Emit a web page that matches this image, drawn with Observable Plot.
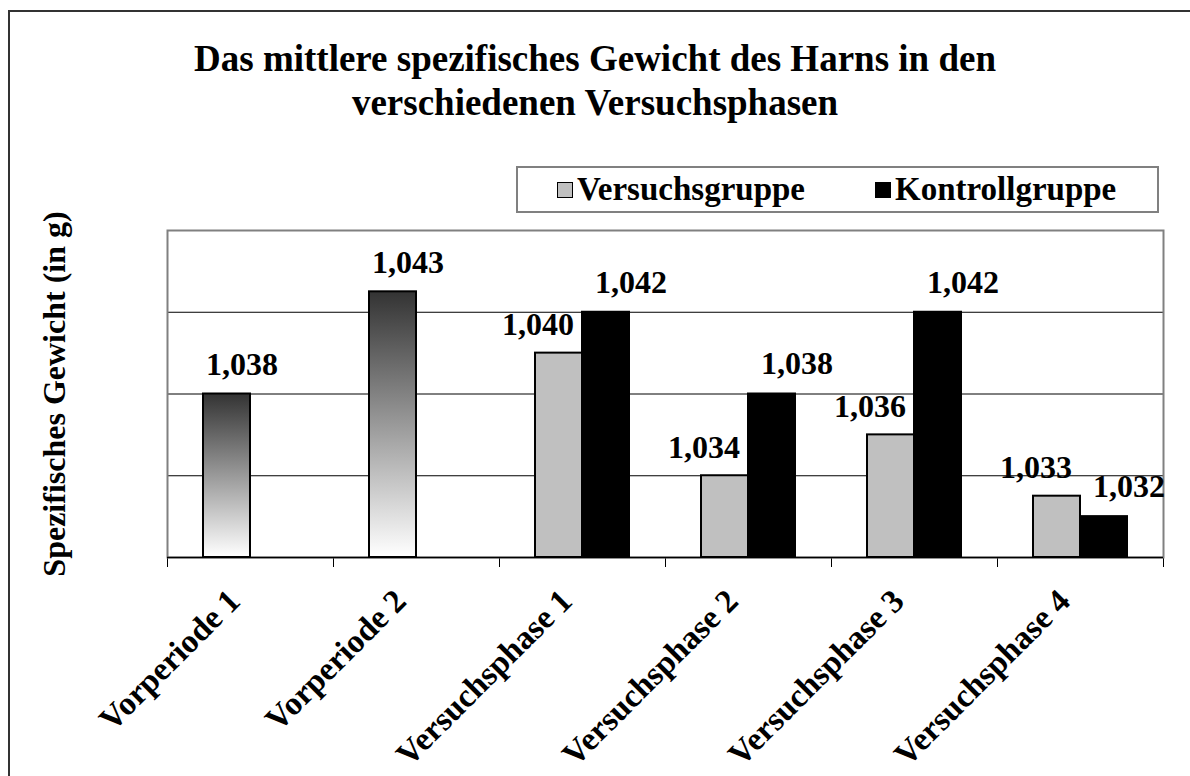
<!DOCTYPE html>
<html><head><meta charset="utf-8">
<script src="https://cdn.jsdelivr.net/npm/d3@7"></script>
<script src="https://cdn.jsdelivr.net/npm/@observablehq/plot@0.6"></script>
<style>
html,body{margin:0;padding:0;background:#fff;overflow:hidden}
#chart{position:relative;width:1190px;height:776px;overflow:hidden;font-family:"Liberation Serif","Times New Roman",serif;font-weight:bold;color:#000}
#chart svg{position:absolute;left:0;top:0}
#border{position:absolute;left:8px;top:10px;width:1300px;height:900px;border-left:2px solid #333;border-top:2px solid #333}
#title{position:absolute;left:0;top:37px;width:1190px;text-align:center;font-size:37px;line-height:44px}
#legend{position:absolute;left:516px;top:166px;width:643px;height:47px;box-sizing:border-box;border:2px solid #808080;display:flex;align-items:center;padding-left:39px;gap:70px;font-size:33px;background:#fff;z-index:2}
#legend .item{display:flex;align-items:center;white-space:nowrap}
#legend .sw{display:inline-block;width:14px;height:14px;border:1px solid #000;margin-right:4px}
</style></head><body>
<div id="chart">
  <div id="border"></div>
  <div id="title">Das mittlere spezifisches Gewicht des Harns in den<br>verschiedenen Versuchsphasen</div>
  <div id="legend"></div>
</div>
<script>
// ---- data ----
const phases = ["Vorperiode 1", "Vorperiode 2", "Versuchsphase 1", "Versuchsphase 2", "Versuchsphase 3", "Versuchsphase 4"];
const vorperiode     = [1.038, 1.043, null,  null,  null,  null];
const versuchsgruppe = [null,  null,  1.040, 1.034, 1.036, 1.033];
const kontrollgruppe = [null,  null,  1.042, 1.038, 1.042, 1.032];
const groups = ["Versuchsgruppe", "Kontrollgruppe"];
const groupColors = ["#c0c0c0", "#000000"];
const yDomain = [1.030, 1.046];
const gridValues = [1.034, 1.038, 1.042];
const yLabel = "Spezifisches Gewicht (in g)";

// table for the library
const table = [];
phases.forEach((p, i) => {
  table.push({phase: p, group: groups[0], kind: vorperiode[i] != null ? "vor" : "v", value: vorperiode[i] ?? versuchsgruppe[i]});
  table.push({phase: p, group: groups[1], kind: "k", value: kontrollgruppe[i]});
});

const fmt = d3.formatLocale({decimal: ",", thousands: ".", grouping: [3], currency: ["", "€"]}).format(".3f");

const margins = {marginTop: 230, marginRight: 27, marginBottom: 219, marginLeft: 167};

// legend
const legend = document.getElementById("legend");
groups.forEach((g, i) => {
  const item = document.createElement("span");
  item.className = "item";
  const sw = document.createElement("span");
  sw.className = "sw";
  sw.style.background = groupColors[i];
  item.appendChild(sw);
  item.appendChild(document.createTextNode(g));
  legend.appendChild(item);
});

// background: gradient defs, gridlines, plot frame, baseline, boundary ticks
const bg = Plot.plot({
  width: 1190, height: 776, ...margins,
  style: {background: "transparent", overflow: "visible"},
  x: {domain: [0, phases.length], ticks: d3.range(phases.length + 1), tickSize: 10, tickFormat: () => "", label: null, axis: "bottom"},
  y: {domain: yDomain, axis: null},
  marks: [
    () => {
      const defs = d3.create("svg:defs");
      const lg = defs.append("linearGradient").attr("id", "vorGrad")
        .attr("x1", 0).attr("y1", 0).attr("x2", 0).attr("y2", 1);
      lg.append("stop").attr("offset", "0%").attr("stop-color", "#333333");
      lg.append("stop").attr("offset", "100%").attr("stop-color", "#ffffff");
      return defs.node();
    },
    Plot.ruleY(gridValues, {stroke: "black", strokeWidth: 1}),
    Plot.frame({stroke: "#808080", strokeWidth: 2}),
    Plot.ruleY([yDomain[0]], {stroke: "black", strokeWidth: 1.5})
  ]
});

// foreground: faceted bars and labels
const fg = Plot.plot({
  width: 1190, height: 776, ...margins,
  style: {background: "transparent", overflow: "visible", fontFamily: "'Liberation Serif', 'Times New Roman', serif", fontWeight: "bold", fontSize: "32px", color: "black"},
  facet: {data: table, x: "phase"},
  fx: {domain: phases, padding: 0, label: null},
  x: {domain: groups, paddingInner: 0, paddingOuter: 0.747, axis: null},
  y: {domain: yDomain, axis: "left", tickSize: 0, tickFormat: () => "", label: yLabel, labelAnchor: "center", labelOffset: 125, labelArrow: "none"},
  marks: [
    Plot.axisFx({anchor: "bottom", tickSize: 0, tickPadding: 38, tickRotate: -45, dx: -16, label: null, fontSize: 33}),
    Plot.barY(table, {filter: d => d.kind === "vor", x: "group", y1: yDomain[0], y2: "value", fill: "url(#vorGrad)", stroke: "black", strokeWidth: 2}),
    Plot.barY(table, {filter: d => d.kind === "v" && d.value != null, x: "group", y1: yDomain[0], y2: "value", fill: groupColors[0], stroke: "black", strokeWidth: 2}),
    Plot.barY(table, {filter: d => d.kind === "k" && d.value != null, x: "group", y1: yDomain[0], y2: "value", fill: groupColors[1], stroke: "black", strokeWidth: 2}),
    Plot.text(table, {filter: d => d.kind === "vor", x: "group", y: "value", text: d => fmt(d.value), dx: 15, dy: -29, fontSize: 32, fontWeight: "bold"}),
    Plot.text(table, {filter: d => d.kind === "v" && d.value != null, x: "group", y: "value", text: d => fmt(d.value), dx: -21, dy: -28, fontSize: 32, fontWeight: "bold"}),
    Plot.text(table, {filter: d => d.kind === "k" && d.value != null, x: "group", y: "value", text: d => fmt(d.value), dx: 25, dy: -30, fontSize: 32, fontWeight: "bold"})
  ]
});

// strip any automatic arrow from the axis label
fg.querySelectorAll("text").forEach(t => {
  if (/[↑↓→←]/.test(t.textContent)) t.textContent = t.textContent.replace(/\s*[↑↓→←]\s*/g, "");
});

const chart = document.getElementById("chart");
const legendEl = document.getElementById("legend");
chart.insertBefore(bg, legendEl);
chart.insertBefore(fg, legendEl);
</script>
</body></html>
